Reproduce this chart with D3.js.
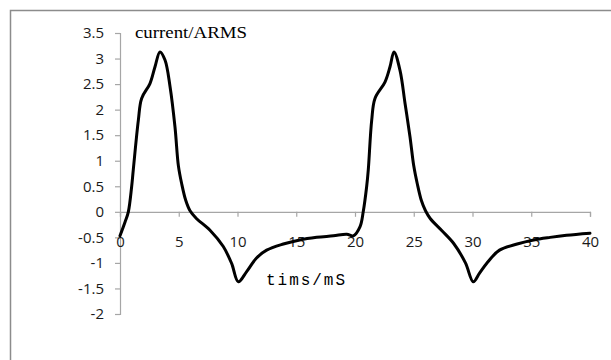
<!DOCTYPE html>
<html>
<head>
<meta charset="utf-8">
<script src="https://cdn.jsdelivr.net/npm/d3@7"></script>
<style>
  body { margin: 0; background: #fff; }
  svg { display: block; }
</style>
</head>
<body>
<svg id="chart" width="611" height="360"></svg>
<script>
// time in mS, current in A
const timeMs = [
  0, 0.43, 0.71, 0.99, 1.13, 1.56, 1.84, 2.55, 2.98, 3.4, 3.83, 4.26, 4.68, 4.97,
  5.25, 5.6, 5.96, 6.5, 7.66, 8.79, 9.5, 10.07, 10.78, 11.6, 12.48, 13.9, 15.3, 16.74,
  18.16, 19.3, 19.86, 20.43, 20.7, 20.99, 21.13, 21.42, 21.7, 22.55, 22.98, 23.32,
  23.83, 24.26, 24.68, 25.0, 25.3, 25.65, 26.0, 26.4, 27.4, 28.4, 29.4, 30.07, 30.6,
  31.2, 32.3, 33.8, 35.2, 36.6, 38, 40
];
const currentA = [
  -0.47, -0.2, 0, 0.49, 0.82, 1.79, 2.22, 2.51, 2.84, 3.13, 2.97, 2.45, 1.66, 0.9,
  0.55, 0.22, 0.02, -0.13, -0.36, -0.68, -1.01, -1.37, -1.17, -0.91, -0.75, -0.63, -0.55, -0.5,
  -0.47, -0.44, -0.47, -0.29, 0, 0.49, 0.82, 1.79, 2.22, 2.54, 2.84, 3.13,
  2.77, 2.12, 1.47, 0.9, 0.55, 0.22, 0.02, -0.13, -0.37, -0.62, -1.0, -1.37, -1.2,
  -1.01, -0.75, -0.63, -0.55, -0.5, -0.46, -0.42
];
const yTicks = [-2, -1.5, -1, -0.5, 0, 0.5, 1, 1.5, 2, 2.5, 3, 3.5];
const xTicks = [0, 5, 10, 15, 20, 25, 30, 35, 40];

const data = timeMs.map((t, i) => [t, currentA[i]]);

const svg = d3.select('#chart');

// outer frame (only top/left edges fall inside the picture)
svg.append('rect')
  .attr('x', 10.5)
  .attr('y', 10.5)
  .attr('width', 700)
  .attr('height', 400)
  .attr('fill', 'none')
  .attr('stroke', '#8c8c8c')
  .attr('stroke-width', 1.5);

const x = d3.scaleLinear().domain([0, 40]).range([120, 590]);
const y = d3.scaleLinear().domain([-2, 3.5]).range([314, 33]);

const fmt = (d) => String(d);

const yAxis = svg.append('g')
  .attr('transform', `translate(${x(0)},0)`)
  .call(d3.axisLeft(y).tickValues(yTicks).tickFormat(fmt).tickSize(5).tickPadding(11));

const xAxis = svg.append('g')
  .attr('transform', `translate(0,${y(0)})`)
  .call(d3.axisBottom(x).tickValues(xTicks).tickFormat(fmt).tickSize(5).tickPadding(20));

[xAxis, yAxis].forEach((g) => {
  g.select('.domain').attr('stroke', '#a6a6a6').attr('stroke-width', 1.2);
  g.selectAll('.tick line').attr('stroke', '#a6a6a6').attr('stroke-width', 1.2);
  g.selectAll('.tick text')
    .attr('fill', '#1a1a1a')
    .style('font-family', '"Open Sans", sans-serif')
    .style('font-size', '15px');
});

const line = d3.line()
  .x((d) => x(d[0]))
  .y((d) => y(d[1]))
  .curve(d3.curveCatmullRom.alpha(0.5));

svg.append('path')
  .datum(data)
  .attr('fill', 'none')
  .attr('stroke', '#000')
  .attr('stroke-width', 3)
  .attr('stroke-linejoin', 'round')
  .attr('stroke-linecap', 'round')
  .attr('d', line);

svg.append('text')
  .attr('x', 135)
  .attr('y', 38)
  .attr('textLength', 112)
  .attr('lengthAdjust', 'spacingAndGlyphs')
  .style('font-family', '"Liberation Serif", serif')
  .style('font-size', '17px')
  .attr('fill', '#000')
  .text('current/ARMS');

svg.append('text')
  .attr('x', 266)
  .attr('y', 285)
  .attr('textLength', 79)
  .attr('lengthAdjust', 'spacing')
  .style('font-family', '"Liberation Mono", monospace')
  .style('font-size', '16px')
  .attr('fill', '#000')
  .text('tims/mS');
</script>
</body>
</html>
